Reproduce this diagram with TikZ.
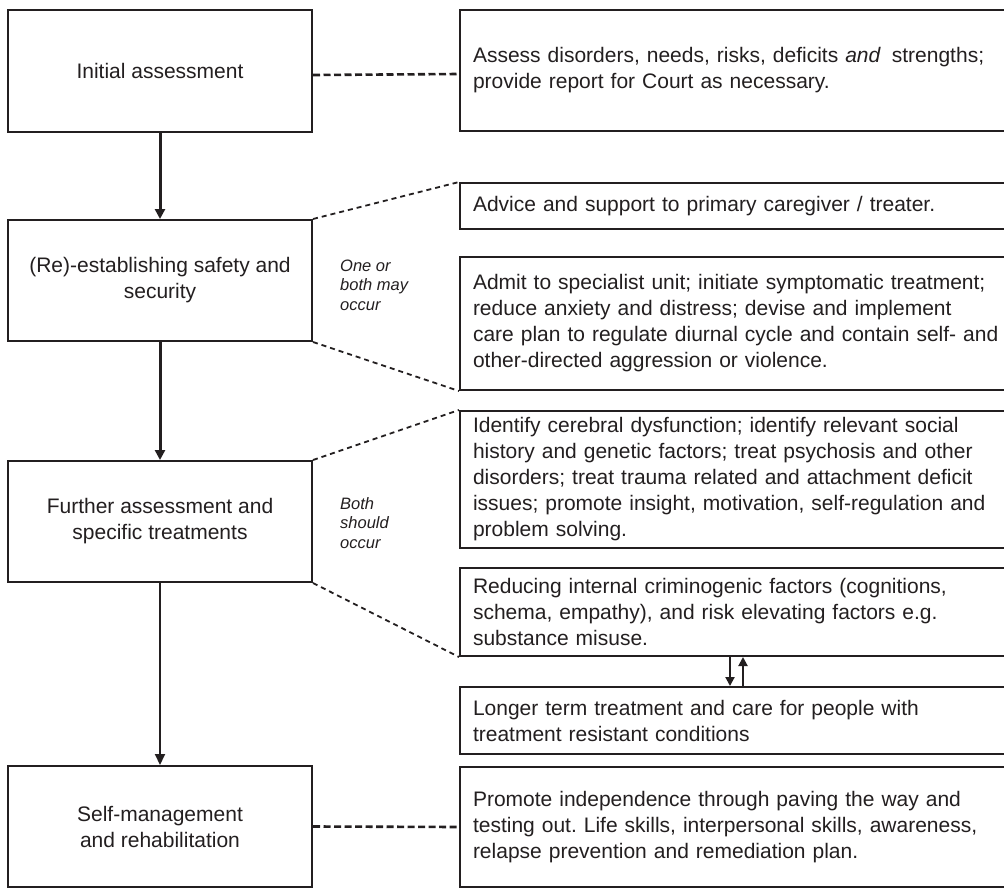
\documentclass[tikz,border=0pt]{standalone}
\usepackage{fontspec}
\setmainfont{Liberation Sans}
\usetikzlibrary{arrows.meta}
\definecolor{ink}{HTML}{231F20}
\frenchspacing
\tikzset{
  stage/.style={draw=ink, line width=2pt, minimum width=304pt, inner sep=0pt,
    align=center, text=ink, font=\fontsize{21}{26}\selectfont},
  detail/.style={draw=ink, line width=2pt, anchor=west, inner xsep=13pt, inner ysep=0pt,
    text width=560pt, align=left, text=ink, font=\fontsize{21}{26}\selectfont},
  note/.style={anchor=west, align=left, text=ink, inner sep=0pt,
    font=\fontsize{16.5}{19.5}\selectfont\itshape},
  flow/.style={draw=ink, line width=3pt, -{Triangle[length=10pt,width=10pt]}},
  thinflow/.style={draw=ink, line width=2pt, -{Triangle[length=11pt,width=10pt]}},
  link/.style={draw=ink, line width=2.6pt, dash pattern=on 7pt off 3.5pt},
  fan/.style={draw=ink, line width=1.8pt, dash pattern=on 5pt off 4pt},
  swap/.style={draw=ink, line width=2pt, -{Triangle[length=9pt,width=9pt]}}
}
\begin{document}
\begin{tikzpicture}[x=1pt, y=-1pt]
\clip (0,0) rectangle (1004,888);
\fill[white] (0,0) rectangle (1004,888);

% stages of the pathway
\node[stage, minimum height=122pt] (s1) at (160,71) {Initial assessment};
\node[stage, minimum height=121pt] (s2) at (160,280.5) {(Re)-establishing safety and\\security};
\node[stage, minimum height=121pt] (s3) at (160,521.5) {Further assessment and\\specific treatments};
\node[stage, minimum height=121pt] (s4) at (160,826.5) {Self-management\\and rehabilitation};

% details for each stage
\node[detail, minimum height=121pt] (d1) at (459,70.5)
  {Assess disorders, needs, risks, deficits \textit{and}\hspace{4pt} strengths;\\provide report for Court as necessary.};
\node[detail, minimum height=46pt] (d2) at (459,206)
  {Advice and support to primary caregiver / treater.};
\node[detail, minimum height=133pt] (d3) at (459,323.5)
  {Admit to specialist unit; initiate symptomatic treatment;\\reduce anxiety and distress; devise and implement\\care plan to regulate diurnal cycle and contain self- and\\other-directed aggression or violence.};
\node[detail, minimum height=137pt] (d4) at (459,479.5)
  {Identify cerebral dysfunction; identify relevant social\\history and genetic factors; treat psychosis and other\\disorders; treat trauma related and attachment deficit\\issues; promote insight, motivation, self-regulation and\\problem solving.};
\node[detail, minimum height=88pt] (d5) at (459,612)
  {Reducing internal criminogenic factors (cognitions,\\schema, empathy), and risk elevating factors e.g.\\substance misuse.};
\node[detail, minimum height=67pt] (d6) at (459,720.5)
  {Longer term treatment and care for people with\\treatment resistant conditions};
\node[detail, minimum height=120pt] (d7) at (459,827)
  {Promote independence through paving the way and\\testing out. Life skills, interpersonal skills, awareness,\\relapse prevention and remediation plan.};

% side notes
\node[note] (n1) at (340,285) {One or\\both may\\occur};
\node[note] (n2) at (340,523) {Both\\should\\occur};

% main flow
\draw[flow] (s1.south) -- (s2.north);
\draw[flow] (s2.south) -- (s3.north);
\draw[thinflow] (s3.south) -- (s4.north);

% links from stages to details
\draw[link] ([yshift=-4pt]s1.east) -- ([yshift=-3.5pt]d1.west);
\draw[link] (s4.east) -- (d7.west);
\draw[fan] (s2.north east) -- (d2.north west);
\draw[fan] (s2.south east) -- (d3.south west);
\draw[fan] (s3.north east) -- (d4.north west);
\draw[fan] (s3.south east) -- (d5.south west);

% two-way exchange between the lower detail boxes
\coordinate (xa) at (730,0);
\coordinate (xb) at (743,0);
\draw[swap] (xa |- d5.south) -- (xa |- d6.north);
\draw[swap] (xb |- d6.north) -- (xb |- d5.south);
\end{tikzpicture}
\end{document}
